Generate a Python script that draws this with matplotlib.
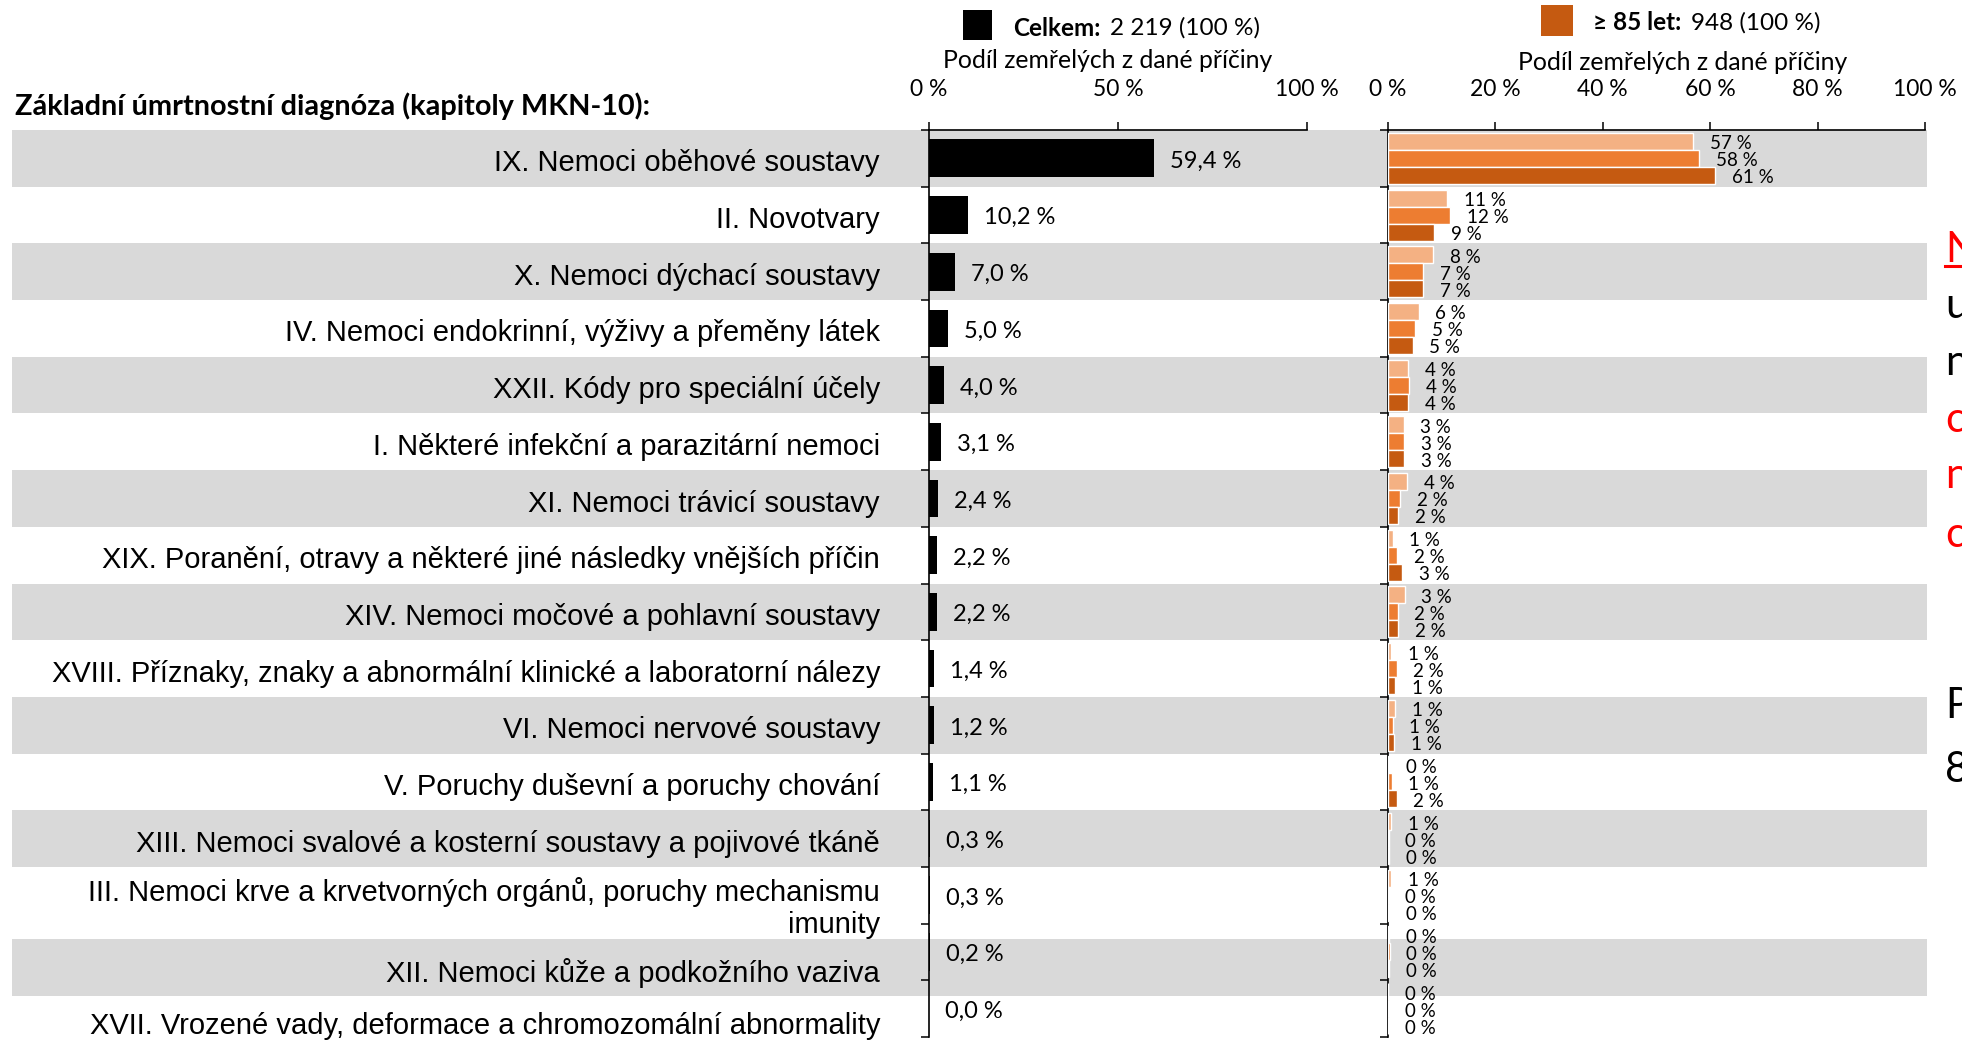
import matplotlib
matplotlib.use("Agg")
import matplotlib.pyplot as plt
from matplotlib.patches import Rectangle
from matplotlib.lines import Line2D
import numpy as np

W, H, DPI = 1962, 1040, 100

categories = [
    "IX. Nemoci oběhové soustavy",
    "II. Novotvary",
    "X. Nemoci dýchací soustavy",
    "IV. Nemoci endokrinní, výživy a přeměny látek",
    "XXII. Kódy pro speciální účely",
    "I. Některé infekční a parazitární nemoci",
    "XI. Nemoci trávicí soustavy",
    "XIX. Poranění, otravy a některé jiné následky vnějších příčin",
    "XIV. Nemoci močové a pohlavní soustavy",
    "XVIII. Příznaky, znaky a abnormální klinické a laboratorní nálezy",
    "VI. Nemoci nervové soustavy",
    "V. Poruchy duševní a poruchy chování",
    "XIII. Nemoci svalové a kosterní soustavy a pojivové tkáně",
    "III. Nemoci krve a krvetvorných orgánů, poruchy mechanismu\nimunity",
    "XII. Nemoci kůže a podkožního vaziva",
    "XVII. Vrozené vady, deformace a chromozomální abnormality",
]

celkem = [59.4, 10.2, 7.0, 5.0, 4.0, 3.1, 2.4, 2.2, 2.2, 1.4, 1.2, 1.1, 0.3, 0.3, 0.2, 0.0]

serie_1 = [56.8, 11.0, 8.4, 5.7, 3.7, 2.9, 3.6, 0.9, 3.1, 0.6, 1.3, 0.2, 0.6, 0.6, 0.2, 0.0]
serie_2 = [57.9, 11.6, 6.6, 5.0, 3.9, 3.0, 2.3, 1.7, 1.8, 1.6, 0.9, 0.7, 0.1, 0.1, 0.3, 0.1]
serie_3 = [60.9, 8.6, 6.6, 4.6, 3.8, 3.0, 1.9, 2.6, 1.9, 1.3, 1.1, 1.6, 0.2, 0.2, 0.2, 0.0]

left_ticks = [0, 50, 100]
right_ticks = [0, 20, 40, 60, 80, 100]
tick_labels_left = ["0 %", "50 %", "100 %"]
tick_labels_right = ["0 %", "20 %", "40 %", "60 %", "80 %", "100 %"]

legend_left_bold = "Celkem:"
legend_left_rest = "2 219 (100 %)"
legend_right_bold = "≥ 85 let:"
legend_right_rest = "948 (100 %)"
axis_title = "Podíl zemřelých z dané příčiny"
header = "Základní úmrtnostní diagnóza (kapitoly MKN-10):"

# side text (cut off at the right edge, as in the source slide)
side_letters = ["N", "u", "n", "c", "n", "c", "P", "8"]
side_colors = ["#FF0000", "black", "black", "#FF0000", "#FF0000", "#FF0000", "black", "black"]
side_baselines = [262, 318, 375, 432, 488, 547, 718, 782]

C_BLACK = "black"
C_LIGHT = "#F4B183"
C_MID = "#ED7D31"
C_DARK = "#C55A11"
BAND = "#D9D9D9"

SANS = ["Lato", "DejaVu Sans"]
ARIAL = ["Liberation Sans", "DejaVu Sans"]


def fx(px):
    return px / W


def fy(py):
    return 1 - py / H


fig = plt.figure(figsize=(W / DPI, H / DPI), dpi=DPI)
fig.patch.set_facecolor("white")

# background bands (table rows)
row_heights = [56.7] * 13 + [72, 57, 57]
row_tops = [130.0]
for h in row_heights[:-1]:
    row_tops.append(row_tops[-1] + h)
for k, (top, h) in enumerate(zip(row_tops, row_heights)):
    if k % 2 == 0:
        fig.add_artist(Rectangle((fx(12), fy(top + h)), fx(1927) - fx(12), h / H,
                                 transform=fig.transFigure, facecolor=BAND,
                                 edgecolor="none", zorder=-5))
    shift = 5 if k < len(categories) - 1 else 1
    fig.text(fx(880), fy(top + h / 2 + shift), categories[k], ha="right", va="center",
             fontsize=21, family=ARIAL, color="black", linespacing=1.15)

fig.text(fx(15), fy(106), header, ha="left", va="center", fontsize=20.8,
         family=SANS, fontweight="bold")

ax_top, ax_bot = 130, 1037
n = len(categories)
y = np.arange(n)


def style_axis(ax, ticks, labels):
    ax.set_facecolor("none")
    ax.set_ylim(n - 0.5, -0.5)
    ax.set_xlim(0, 100)
    for s in ["bottom", "right"]:
        ax.spines[s].set_visible(False)
    for s in ["top", "left"]:
        ax.spines[s].set_linewidth(1.2)
        ax.spines[s].set_color("black")
    ax.xaxis.tick_top()
    ax.set_xticks(ticks)
    ax.set_xticklabels(labels, family=SANS, fontsize=16.5)
    ax.tick_params(axis="x", direction="out", length=6, width=1.1, pad=15.5)
    ax.set_yticks(np.arange(-0.5, n, 1.0))
    ax.set_yticklabels([])
    ax.tick_params(axis="y", direction="out", length=6, width=1.1)


# left chart
ax1 = fig.add_axes([fx(929), fy(ax_bot), fx(1307) - fx(929), (ax_bot - ax_top) / H])
style_axis(ax1, left_ticks, tick_labels_left)
ax1.barh(y, celkem, height=0.665, color=C_BLACK, zorder=3)
for yi, v in zip(y, celkem):
    ax1.annotate(f"{v:.1f} %".replace(".", ","), xy=(v, yi), xytext=(11.5, -2),
                 textcoords="offset points", ha="left", va="center",
                 fontsize=17, family=SANS)

# right chart
ax2 = fig.add_axes([fx(1388), fy(ax_bot), fx(1925) - fx(1388), (ax_bot - ax_top) / H])
style_axis(ax2, right_ticks, tick_labels_right)
bh = 0.3
for off, vals, col in [(-bh, serie_1, C_LIGHT), (0, serie_2, C_MID), (bh, serie_3, C_DARK)]:
    ax2.barh(y + off, vals, height=bh, color=col, edgecolor="white", linewidth=1.0, zorder=3)
    for yi, v in zip(y + off, vals):
        ax2.annotate(f"{round(v)} %", xy=(v, yi), xytext=(12, -1.8),
                     textcoords="offset points", ha="left", va="center",
                     fontsize=13.5, family=SANS)

# axis titles
fig.text(fx(1108), fy(60), axis_title, ha="center", va="center", fontsize=17.8, family=SANS)
fig.text(fx(1683), fy(63), axis_title, ha="center", va="center", fontsize=17.8, family=SANS)

# legends
fig.canvas.draw()
renderer = fig.canvas.get_renderer()


def legend_pair(x_px, y_px, bold, rest):
    t = fig.text(fx(x_px), fy(y_px), bold, ha="left", va="center", fontsize=17.5,
                 family=SANS, fontweight="bold")
    bb = t.get_window_extent(renderer=renderer)
    fig.text(bb.x1 / W + fx(10), fy(y_px), rest, ha="left", va="center",
             fontsize=17.5, family=SANS)


fig.add_artist(Rectangle((fx(963), fy(40)), fx(992) - fx(963), 30 / H,
                         transform=fig.transFigure, facecolor=C_BLACK, edgecolor="none"))
legend_pair(1013, 28, legend_left_bold, legend_left_rest)

fig.add_artist(Rectangle((fx(1541), fy(36)), fx(1573) - fx(1541), 31 / H,
                         transform=fig.transFigure, facecolor=C_DARK, edgecolor="none"))
legend_pair(1593, 23, legend_right_bold, legend_right_rest)

# cut-off side text
for ch, col, b in zip(side_letters, side_colors, side_baselines):
    fig.text(fx(1945), fy(b), ch, ha="left", va="baseline", fontsize=30, family=SANS, color=col)
fig.add_artist(Line2D([fx(1945), fx(1962)], [fy(266), fy(266)], transform=fig.transFigure,
                      color="#FF0000", linewidth=2.2))

fig.savefig("out.png", dpi=DPI, facecolor="white")
